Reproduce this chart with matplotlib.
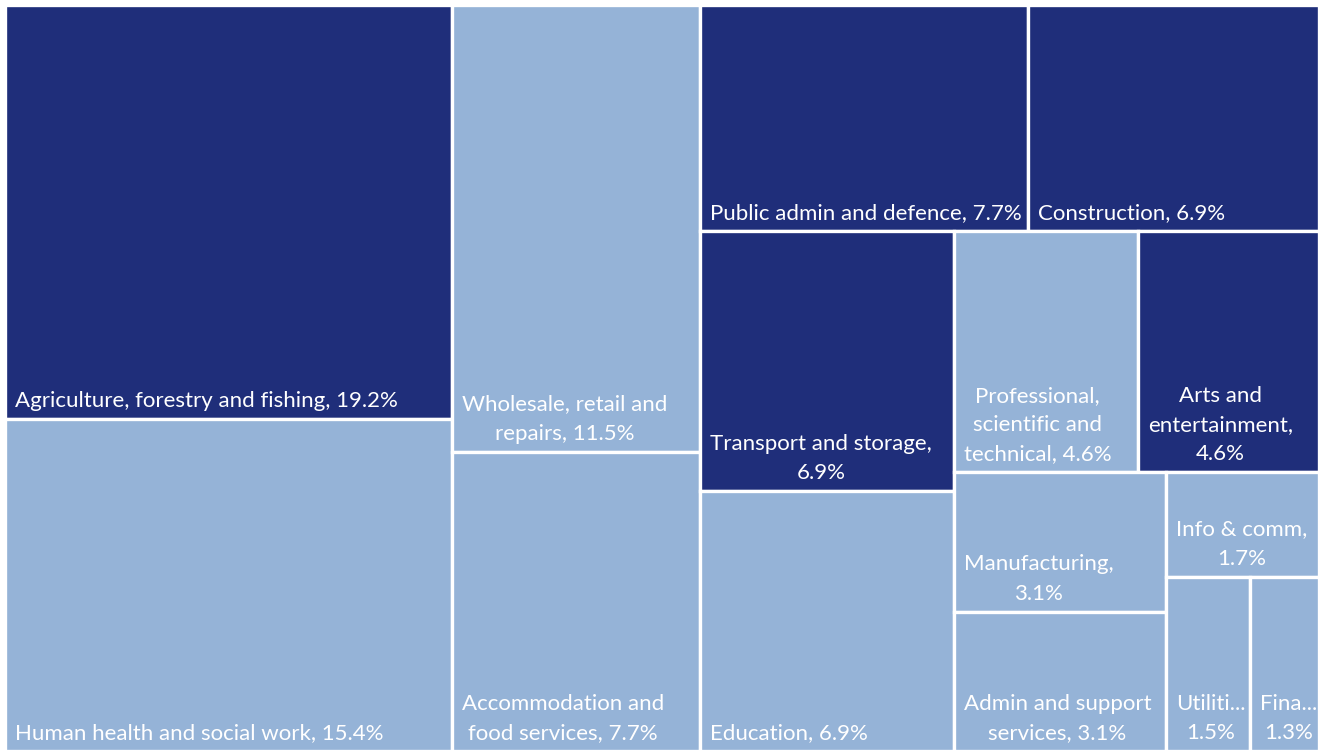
import matplotlib.pyplot as plt
from matplotlib.patches import Rectangle

# sectors and their shares (%), estimated from tile sizes (labels show them rounded)
sectors = ["Agriculture, forestry and fishing", "Human health and social work",
           "Wholesale, retail and repairs", "Accommodation and food services",
           "Public admin and defence", "Construction", "Transport and storage",
           "Education", "Professional, scientific and technical",
           "Arts and entertainment", "Manufacturing", "Admin and support services",
           "Info & comm", "Utilities", "Finance"]
shares = [19.25, 15.45, 11.55, 7.74, 7.72, 6.85, 6.86, 6.85, 4.62, 4.55,
          3.08, 3.08, 1.66, 1.52, 1.25]
highlight = [1, 0, 0, 0, 1, 1, 1, 0, 0, 1, 0, 0, 0, 0, 0]

# text as it is shown in each tile (wrapped / truncated)
labels = ["Agriculture, forestry and fishing, 19.2%",
          "Human health and social work, 15.4%",
          "Wholesale, retail and\nrepairs, 11.5%",
          "Accommodation and\nfood services, 7.7%",
          "Public admin and defence, 7.7%",
          "Construction, 6.9%",
          "Transport and storage,\n6.9%",
          "Education, 6.9%",
          "Professional,\nscientific and\ntechnical, 4.6%",
          "Arts and\nentertainment,\n4.6%",
          "Manufacturing,\n3.1%",
          "Admin and support\nservices, 3.1%",
          "Info & comm,\n1.7%",
          "Utiliti...\n1.5%",
          "Fina...\n1.3%"]

# how the tiles are nested: 'h' = side by side, 'v' = stacked
layout = ('h', [('v', [0, 1]),
                ('v', [2, 3]),
                ('v', [('h', [4, 5]),
                       ('h', [('v', [6, 7]),
                              ('v', [('h', [8, 9]),
                                     ('h', [('v', [10, 11]),
                                            ('v', [12, ('h', [13, 14])])])])])])])

DARK = "#1F2E7A"
LIGHT = "#95B3D7"
W, H = 1314.0, 746.0


def total(node):
    if isinstance(node, int):
        return shares[node]
    return sum(total(c) for c in node[1])


def place(node, x, y, w, h, out):
    if isinstance(node, int):
        out[node] = (x, y, w, h)
        return
    d, kids = node
    s = total(node)
    for k in kids:
        f = total(k) / s
        if d == 'h':
            place(k, x, y, w * f, h, out)
            x += w * f
        else:
            place(k, x, y, w, h * f, out)
            y += h * f


rects = {}
place(layout, 0, 0, W, H, rects)

fig = plt.figure(figsize=(13.19, 7.51), dpi=100)
ax = fig.add_axes([5 / 1319, 0, W / 1319, H / 751])
ax.set_xlim(0, W)
ax.set_ylim(H, 0)
ax.axis("off")

for i in range(len(sectors)):
    x, y, w, h = rects[i]
    ax.add_patch(Rectangle((x, y), w, h, facecolor=DARK if highlight[i] else LIGHT,
                           edgecolor="white", linewidth=2.4))
    ax.text(x + 10, y + h - 8, labels[i], color="white", fontsize=16, family="Lato",
            ha="left", va="bottom", multialignment="center", linespacing=1.58)

plt.savefig("out.png", dpi=100)
